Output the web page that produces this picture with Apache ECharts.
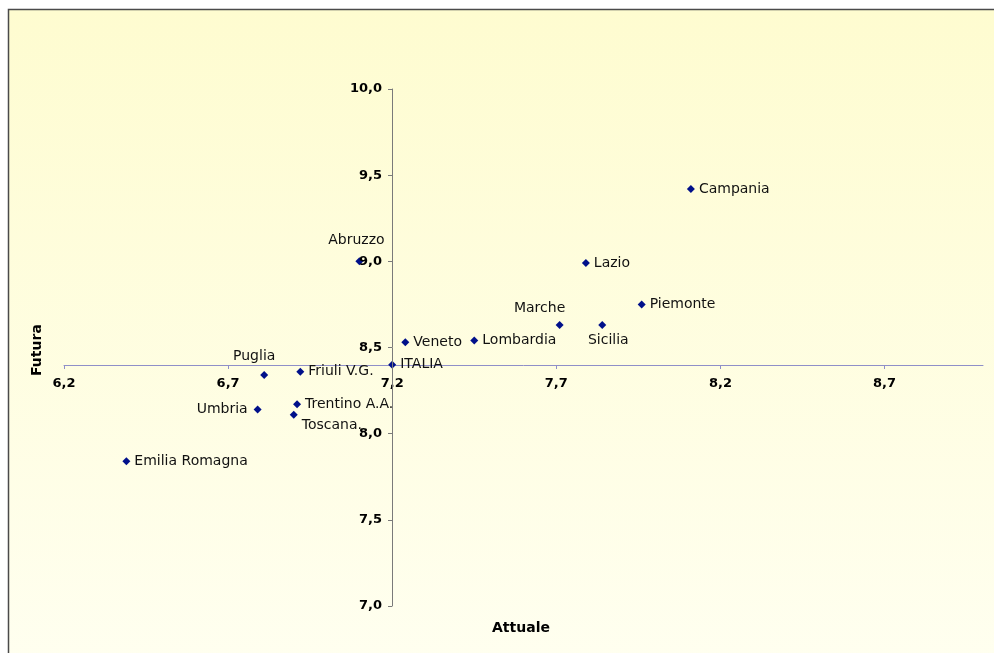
<!DOCTYPE html>
<html>
<head>
<meta charset="utf-8">
<script src="https://cdn.jsdelivr.net/npm/echarts@6/dist/echarts.min.js"></script>
<style>html,body{margin:0;padding:0;background:#fff;}#c{width:994px;height:653px;}</style>
</head>
<body>
<div id="c"></div>
<script>
// Data
var regions = ['Campania','Lazio','Piemonte','Marche','Sicilia','Lombardia','Veneto','ITALIA','Abruzzo','Puglia','Friuli V.G.','Umbria','Trentino A.A.','Toscana.','Emilia Romagna'];
var attuale = [8.11, 7.79, 7.96, 7.71, 7.84, 7.45, 7.24, 7.20, 7.10, 6.81, 6.92, 6.79, 6.91, 6.90, 6.39];
var futura  = [9.42, 8.99, 8.75, 8.63, 8.63, 8.54, 8.53, 8.40, 9.00, 8.34, 8.36, 8.14, 8.17, 8.11, 7.84];
var xTicks = [6.2, 6.7, 7.2, 7.7, 8.2, 8.7];
var yTicks = [7.0, 7.5, 8.0, 8.5, 9.0, 9.5, 10.0];

// label placement (layout only)
var labelLayout = {
  'Puglia': {position: 'top', offset: [-10, -4]},
  'Abruzzo': {position: 'top', offset: [-3, -6]},
  'Umbria': {position: 'left', offset: [-2, 0]},
  'Toscana.': {position: 'right', offset: [0, 11]},
  'Marche': {position: 'top', offset: [-20, -2]},
  'Sicilia': {position: 'bottom', offset: [6, 0]}
};

var fmt = function (v) { return Number(v).toFixed(1).replace('.', ','); };

var grid = {left: 64, right: 11, top: 89, bottom: 47};
var plotH = 653 - grid.top - grid.bottom;
var plotW = 994 - grid.left - grid.right;
var xCross = 7.2, yCross = 8.4;
var xMin = 6.2, xMax = 9.0, yMin = 7.0, yMax = 10.0;
var xOffset = -Math.round((yCross - yMin) / (yMax - yMin) * plotH);
var yOffset = -Math.round((xCross - xMin) / (xMax - xMin) * plotW);

var points = regions.map(function (r, i) {
  var item = {name: r, value: [attuale[i], futura[i]]};
  var lay = labelLayout[r];
  item.label = {show: true, position: lay ? lay.position : 'right', offset: lay ? lay.offset : [0, 0], distance: 4};
  return item;
});

var chart = echarts.init(document.getElementById('c'), null, {renderer: 'canvas'});
chart.setOption({
  backgroundColor: '#ffffff',
  animation: false,
  graphic: [
    {type: 'rect', z: -10, silent: true,
      shape: {x: 8.5, y: 9.5, width: 1000, height: 700},
      style: {
        fill: new echarts.graphic.LinearGradient(0, 0, 0, 1, [
          {offset: 0, color: '#fefcd0'}, {offset: 1, color: '#fffff2'}
        ]),
        stroke: '#4a4a4a', lineWidth: 1.5
      }},
    {type: 'text', left: 492, top: 621, z: 10,
      style: {text: 'Attuale', font: 'bold 14px "DejaVu Sans"', fill: '#000'}},
    {type: 'text', x: 30, y: 376, rotation: Math.PI / 2, z: 10,
      style: {text: 'Futura', font: 'bold 14px "DejaVu Sans"', fill: '#000'}}
  ],
  grid: grid,
  xAxis: {
    type: 'value', min: xMin, max: xMax, position: 'bottom', offset: xOffset,
    splitLine: {show: false},
    axisLine: {show: true, onZero: false, lineStyle: {color: '#8f8fc8', width: 1}},
    axisTick: {show: true, length: 4, lineStyle: {color: '#8f8fc8'}, customValues: xTicks},
    axisLabel: {customValues: xTicks, formatter: fmt, margin: 12,
      fontFamily: 'DejaVu Sans', fontWeight: 'bold', fontSize: 13, color: '#000'}
  },
  yAxis: {
    type: 'value', min: yMin, max: yMax, position: 'left', offset: yOffset, z: 10,
    splitLine: {show: false},
    axisLine: {show: true, onZero: false, lineStyle: {color: '#7a7a7a', width: 1}},
    axisTick: {show: true, length: 4, lineStyle: {color: '#7a7a7a'}, customValues: yTicks},
    axisLabel: {customValues: yTicks, formatter: fmt, margin: 10,
      fontFamily: 'DejaVu Sans', fontWeight: 'bold', fontSize: 13, color: '#000'}
  },
  series: [{
    type: 'scatter', z: 2,
    symbol: 'diamond', symbolSize: 8,
    itemStyle: {color: '#00108a', opacity: 1},
    label: {show: true, formatter: '{b}', fontFamily: 'DejaVu Sans', fontSize: 14, color: '#111', textBorderWidth: 0},
    emphasis: {disabled: true},
    data: points
  }]
});
</script>
</body>
</html>
